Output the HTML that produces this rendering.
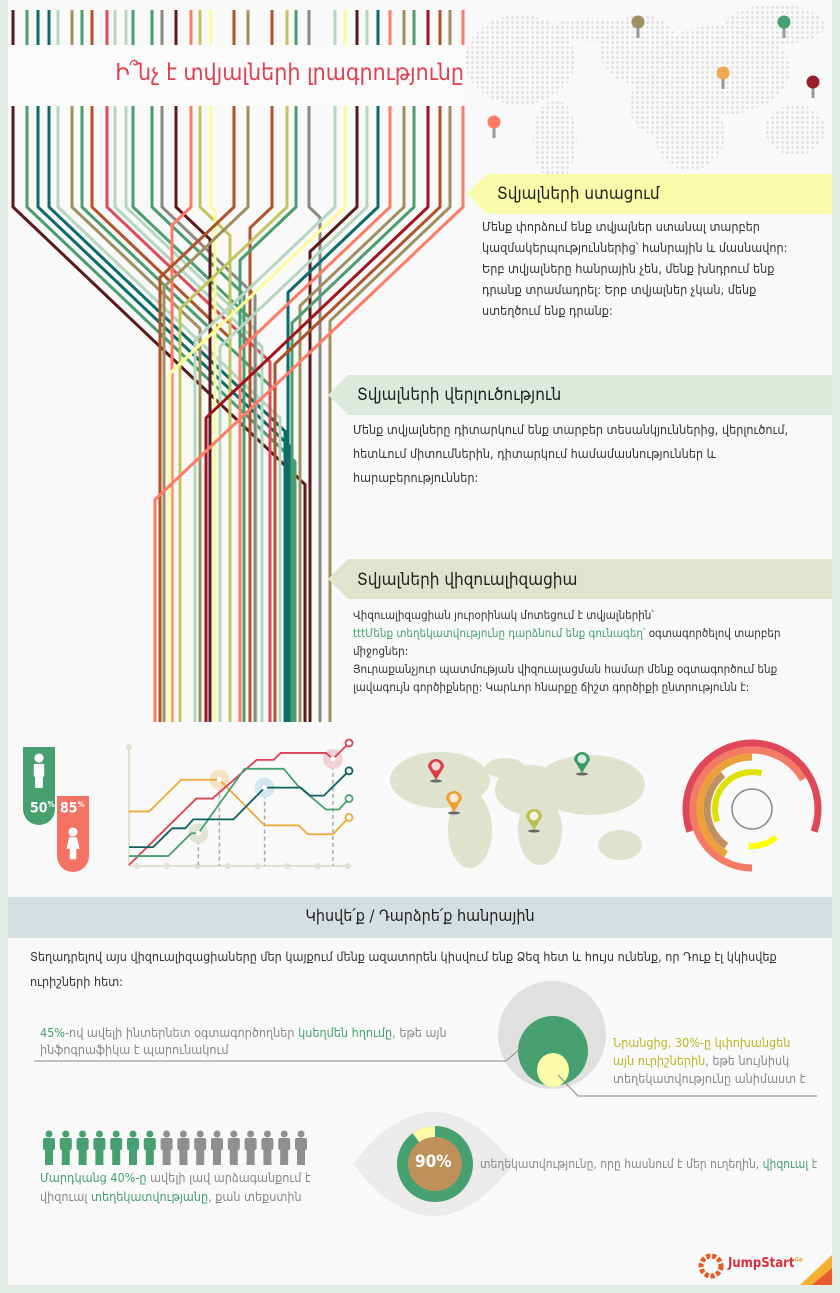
<!DOCTYPE html>
<html><head><meta charset="utf-8">
<style>
html,body{margin:0;padding:0}
body{width:840px;height:1293px;background:#e0ece4;position:relative;overflow:hidden;font-family:"DejaVu Sans Condensed","DejaVu Sans",sans-serif;color:#333}
#page{position:absolute;left:8px;top:0;width:824px;height:1285px;background:#f9f9f9}
.t{position:absolute;white-space:nowrap}
.p{font-size:12.5px;line-height:26px;color:#333}
.g{color:#46a06f}
.y{color:#b8b820}
</style></head>
<body>
<div id="page"></div>
<svg id="art" width="840" height="1293" style="position:absolute;left:0;top:0"></svg>

<div class="t" style="left:100px;top:60px;width:364px;text-align:right;font-size:23px;color:#e0404f;font-weight:300">Ի՞նչ է տվյալների լրագրությունը</div>

<div class="t" style="left:497px;top:184px;font-size:17px;color:#222">Տվյալների ստացում</div>
<div class="t p" style="left:482px;top:216px;line-height:21px;font-size:12.5px">Մենք փորձում ենք տվյալներ ստանալ տարբեր<br>կազմակերպություններից՝ հանրային և մասնավոր:<br>Երբ տվյալները հանրային չեն, մենք խնդրում ենք<br>դրանք տրամադրել: Երբ տվյալներ չկան, մենք<br>ստեղծում ենք դրանք:</div>

<div class="t" style="left:357px;top:385px;font-size:17px;color:#222">Տվյալների վերլուծություն</div>
<div class="t p" style="left:353px;top:418px;line-height:24px;font-size:12.5px">Մենք տվյալները դիտարկում ենք տարբեր տեսանկյուններից, վերլուծում,<br>հետևում միտումներին, դիտարկում համամասնություններ և<br>հարաբերություններ:</div>

<div class="t" style="left:357px;top:570px;font-size:17px;color:#222">Տվյալների վիզուալիզացիա</div>
<div class="t p" style="left:353px;top:606px;line-height:18px;font-size:11.5px">Վիզուալիզացիան յուրօրինակ մոտեցում է տվյալներին՝<br><span class="g">tttՄենք տեղեկատվությունը դարձնում ենք գունագեղ՝</span> օգտագործելով տարբեր<br>միջոցներ:<br>Յուրաքանչյուր պատմության վիզուալացման համար մենք օգտագործում ենք<br>լավագույն գործիքները: Կարևոր հնարքը ճիշտ գործիքի ընտրությունն է:</div>

<div class="t" style="left:30px;top:800px;font-size:14px;font-weight:bold;color:#fff">50<sup style="font-size:8px">%</sup></div>
<div class="t" style="left:60px;top:800px;font-size:14px;font-weight:bold;color:#fff">85<sup style="font-size:8px">%</sup></div>

<div class="t" style="left:8px;top:906px;width:824px;text-align:center;font-size:16px;color:#222">Կիսվե՛ք / Դարձրե՛ք հանրային</div>
<div class="t p" style="left:30px;top:944px;line-height:25px;font-size:12.5px">Տեղադրելով այս վիզուալիզացիաները մեր կայքում մենք ազատորեն կիսվում ենք Ձեզ հետ և հույս ունենք, որ Դուք էլ կկիսվեք<br>ուրիշների հետ:</div>

<div class="t" style="left:40px;top:1024px;font-size:12.5px;line-height:17px;color:#888"><span class="g">45%</span>-ով ավելի ինտերնետ օգտագործողներ <span class="g">կսեղմեն հղումը</span>, եթե այն<br>ինֆոգրաֆիկա է պարունակում</div>
<div class="t" style="left:613px;top:1034px;font-size:12.5px;line-height:18px;color:#888"><span class="y">Նրանցից, 30%-ը կփոխանցեն</span><br><span class="y">այն ուրիշներին</span>, եթե նույնիսկ<br>տեղեկատվությունը անիմաստ է</div>
<div class="t" style="left:40px;top:1168px;font-size:12.5px;line-height:19px;color:#888"><span class="g">Մարդկանց 40%-ը</span> ավելի լավ արձագանքում է<br>վիզուալ <span class="g">տեղեկատվությանը</span>, քան տեքստին</div>
<div class="t" style="left:480px;top:1157px;font-size:12px;color:#888">տեղեկատվությունը, որը հասնում է մեր ուղեղին, <span class="g">վիզուալ</span> է</div>
<div class="t" style="left:415px;top:1152px;font-size:17px;font-weight:bold;color:#fff">90%</div>
<div class="t" style="left:728px;top:1256px;font-size:13px;font-weight:bold;color:#d8303a">JumpStart<sup style="font-size:6px;color:#e8a020">Ge</sup></div>

<script>
const NS='http://www.w3.org/2000/svg';
const svg=document.getElementById('art');
function mk(tag,attrs,parent){const e=document.createElementNS(NS,tag);for(const k in attrs)e.setAttribute(k,attrs[k]);(parent||svg).appendChild(e);return e;}

// ---------- data ----------
const lineStarts=[13,27,38,49,58,72,82,92,107,115,126,133,152,162,176,191,200,211,234,248,272,287,296,309,335,345,357,367,378,390,404,414,428,440,450,463];
const lineEnds=[305,295,290,285,280,200,275,230,270,262,256,250,244,255,210,172,230,215,160,164,250,180,240,320,195,170,310,220,288,240,300,292,206,275,330,155];
const lineColors=['#5a1a1a','#4a9d6f','#0d6b6b','#0d6b6b','#b5d6bf','#a09060','#4a9d6f','#b0532a','#e04a5a','#b5d6bf','#b5d6bf','#4a9d6f','#4a9d6f','#8a8a80','#5a1a1a','#ff7b66','#c2c460','#fbfb9a','#b0532a','#a09060','#b0532a','#c2c460','#4a9d6f','#8a8a80','#b5d6bf','#fbfb9a','#5a1a1a','#b5d6bf','#0d6b6b','#ff7b66','#a09060','#4a9d6f','#a0141e','#b0532a','#a09060','#ff7b66'];

const chartX={orange:[0,2,5.2,9,13.5,16.9,17.8,20.3,21.9],red:[0,6.7,8.3,12.7,14.4,15.1,19.6,20.3,21.9],green:[0,3.9,6.2,6.9,11.5,15.4,16.8,19.6,20.9,21.9],teal:[0,2.4,4.3,5.6,6.4,10.4,13.5,17.1,18,19.4,21.9]};
const orangeY=[5.5,5.5,8.7,8.7,4.1,4.1,3.2,3.2,4.9];
const redY=[0.1,6.8,6.8,10.7,10.7,11.4,11.4,10.8,12.4];
const greenY=[1,1,3.3,3.3,9.8,9.8,8.1,5.7,5.7,6.8];
const tealY=[1.9,1.9,3.8,3.8,4.7,4.7,7.9,7.9,7.1,7.1,9.6];
const highlightX=[6.9,9,13.5,20.3];
const highlightY=[3.3,8.7,7.9,10.8];
const highlightColors=['#dfe5d6','#f6e3c3','#d3e8ee','#f1d3d5'];
const peopleCount=16, peopleGreen=7;
const eyeShare=90;

// ---------- lines art ----------
mk('rect',{x:10,y:45,width:456,height:61,fill:'#fbfbfb'});
const pat=mk('pattern',{id:'dots',width:5,height:5,patternUnits:'userSpaceOnUse'},mk('defs',{}));
mk('circle',{cx:2.5,cy:2.5,r:1.5,fill:'#e2e2e2'},pat);
const mapShapes=[[520,60,55,45],[555,140,22,40],[640,50,40,35],[720,70,70,45],[690,135,35,35],[795,130,30,25],[655,105,25,30],[590,30,40,12],[775,25,50,20]];
mapShapes.forEach(s=>{const e=mk('ellipse',{cx:s[0],cy:s[1],rx:s[2],ry:s[3],fill:'url(#dots)'});});
const pins=[[638,22,'#a09060'],[784,22,'#46a06f'],[723,73,'#f0a850'],[813,82,'#9a1e2a'],[494,122,'#ff7b66']];
pins.forEach(p=>{mk('rect',{x:p[0]-1.5,y:p[1],width:3,height:16,fill:'#999'});const c=mk('circle',{cx:p[0],cy:p[1],r:6.5,fill:p[2]});});

lineStarts.forEach((x0,i)=>{
  const x1=lineEnds[i];const yb=207;const ye=yb+Math.abs(x1-x0)*0.95;
  mk('line',{x1:x0,y1:10,x2:x0,y2:45,stroke:lineColors[i],'stroke-width':3});
  const p=mk('path',{d:`M${x0},106 L${x0},${yb} L${x1},${ye} L${x1},722`,fill:'none',stroke:lineColors[i],'stroke-width':3,'stroke-linejoin':'round'});
  
  
});

function banner(x,y,w,col,name){const b=mk('path',{d:`M${x},${y+20} L${x+20},${y} L${x+w},${y} L${x+w},${y+40} L${x+20},${y+40} Z`,fill:col});}
banner(467,174,365,'#f8fba8','section1-banner');
banner(328,375,504,'#dbeadd','section2-banner');
banner(328,559,504,'#e1e3cd','section3-banner');

// gender icons
mk('rect',{x:23,y:747,width:32,height:78,rx:16,fill:'#46a06f'});
mk('rect',{x:23,y:747,width:32,height:20,fill:'#46a06f'});
mk('rect',{x:57,y:796,width:32,height:76,rx:16,fill:'#f37264'});
mk('rect',{x:57,y:796,width:32,height:16,fill:'#f37264'});
function person(x,y,s,col,skirt){mk('circle',{cx:x,cy:y,r:3.5*s,fill:col});if(skirt){mk('path',{d:`M${x-3*s},${y+4*s} L${x+3*s},${y+4*s} L${x+5*s},${y+13*s} L${x-5*s},${y+13*s} Z`,fill:col});mk('rect',{x:x-2.5*s,y:y+13*s,width:5*s,height:8*s,fill:col});}else{mk('rect',{x:x-4*s,y:y+4.5*s,width:8*s,height:10*s,rx:1,fill:col});mk('rect',{x:x-3*s,y:y+14*s,width:6*s,height:9*s,fill:col});}}
person(39,758,1.3,'#fff',false);
person(73,832,1.3,'#fff',true);

// line chart
const cx0=129,cx1=350,cy0=866,cy1=747;
const sx=v=>cx0+v*(cx1-cx0)/22;
const sy=v=>cy0-v*(cy0-cy1)/12;
mk('line',{x1:cx0,y1:cy1,x2:cx0,y2:cy0,stroke:'#dfe2cf','stroke-width':2});
mk('line',{x1:cx0,y1:cy0,x2:cx1,y2:cy0,stroke:'#dfe2cf','stroke-width':2});
mk('circle',{cx:cx0,cy:cy1,r:3,fill:'#dfe2cf'});
for(let k=0;k<8;k++)mk('circle',{cx:sx(0.8+k*3),cy:cy0,r:3,fill:'#dfe2cf'});
highlightX.forEach((hx,i)=>{mk('line',{x1:sx(hx),y1:sy(highlightY[i]),x2:sx(hx),y2:cy0,stroke:'#aaa','stroke-dasharray':'4,3','stroke-width':1.5});const c=mk('circle',{cx:sx(hx),cy:sy(highlightY[i]),r:10,fill:highlightColors[i]});});
const series=[['orange',orangeY,'#f0a838'],['red',redY,'#e04050'],['green',greenY,'#46a06f'],['teal',tealY,'#0d6060']];
series.forEach(s=>{const xs=chartX[s[0]];const d=s[1].map((v,i)=>(i?'L':'M')+sx(xs[i])+','+sy(v)).join(' ');const p=mk('path',{d:d,fill:'none',stroke:s[2],'stroke-width':1.8});const n=xs.length-1;mk('circle',{cx:sx(xs[n]),cy:sy(s[1][n]),r:3.5,fill:'#fff',stroke:s[2],'stroke-width':1.8});});
highlightX.forEach((hx,i)=>mk('circle',{cx:sx(hx),cy:sy(highlightY[i]),r:2.5,fill:'#fff'}));

// world map
const land='#dfe2cc';
[[440,780,50,28],[470,830,22,38],[530,790,35,25],[540,830,22,35],[590,785,55,30],[620,845,22,15],[505,768,20,10]].forEach(e=>{const c=mk('ellipse',{cx:e[0],cy:e[1],rx:e[2],ry:e[3],fill:land});});
[[436,767,'#d84048'],[454,799,'#f0a030'],[534,817,'#b8c050'],[582,760,'#3e9a68']].forEach(p=>{mk('ellipse',{cx:p[0],cy:p[1]+14,rx:6,ry:1.5,fill:'#666'});mk('path',{d:`M${p[0]-8},${p[1]} A8,8 0 1,1 ${p[0]+8},${p[1]} L${p[0]},${p[1]+13} Z`,fill:p[2]});mk('circle',{cx:p[0],cy:p[1]-1,r:4.5,fill:'#fff',opacity:0.8});});

// radial chart
function arc(r,a0,a1,col,w){const rad=a=>(a-90)*Math.PI/180;const cx=752,cy=809;const x0=cx+r*Math.cos(rad(a0)),y0=cy+r*Math.sin(rad(a0)),x1=cx+r*Math.cos(rad(a1)),y1=cy+r*Math.sin(rad(a1));const lg=((a1-a0+360)%360)>180?1:0;const p=mk('path',{d:`M${x0},${y0} A${r},${r} 0 ${lg},1 ${x1},${y1}`,fill:'none',stroke:col,'stroke-width':w});}
arc(66,250,110,'#e04858',7);
arc(59,180,60,'#f57a66',7);
arc(52,210,0,'#eda038',7);
arc(45,215,320,'#c09060',7);
arc(37,250,15,'#e0e000',6);
arc(37,140,185,'#ffff00',6);
mk('circle',{cx:752,cy:809,r:20,fill:'none',stroke:'#888','stroke-width':1.5});

const band=mk('rect',{x:8,y:897,width:824,height:41,fill:'#d5dfdf'});

mk('circle',{cx:552,cy:1035,r:54,fill:'#e0e0e0'});
mk('ellipse',{cx:553,cy:1051,rx:35,ry:35,fill:'#46a06f'});
mk('ellipse',{cx:553,cy:1070,rx:16,ry:17,fill:'#fbfba8'});
mk('path',{d:'M34,1061 L506,1061 L530,1040',fill:'none',stroke:'#888','stroke-width':1});
mk('path',{d:'M558,1075 L578,1096 L817,1096',fill:'none',stroke:'#888','stroke-width':1});

for(let k=0;k<peopleCount;k++){const px=49+k*16.8;const col=k<peopleGreen?'#46a06f':'#8f8f8f';const g=mk('g',{});mk('circle',{cx:px,cy:1134,r:3.5,fill:col},g);mk('rect',{x:px-6,y:1138,width:12,height:12,rx:2,fill:col},g);mk('rect',{x:px-4,y:1149,width:8,height:16,fill:col},g);}

mk('path',{d:'M353,1164 Q433,1060 514,1164 Q433,1268 353,1164 Z',fill:'#ebebeb'});
const R=38,ec=[435,1164];
mk('circle',{cx:ec[0],cy:ec[1],r:R,fill:'#46a06f'});
const ang=(100-eyeShare)/100*2*Math.PI;
mk('path',{d:`M${ec[0]},${ec[1]} L${ec[0]},${ec[1]-R} A${R},${R} 0 0,0 ${ec[0]-R*Math.sin(ang)},${ec[1]-R*Math.cos(ang)} Z`,fill:'#fbfba8'});
mk('circle',{cx:ec[0],cy:ec[1],r:27,fill:'#c0905a'});

const lg=mk('circle',{cx:711,cy:1266,r:10,fill:'none',stroke:'#e85a20','stroke-width':5,'stroke-dasharray':'4,2'});
mk('path',{d:'M832,1255 L832,1285 L800,1285 Z',fill:'#f5b030'});
mk('path',{d:'M832,1268 L832,1285 L812,1285 Z',fill:'#e85a30'});
</script>
</body></html>
